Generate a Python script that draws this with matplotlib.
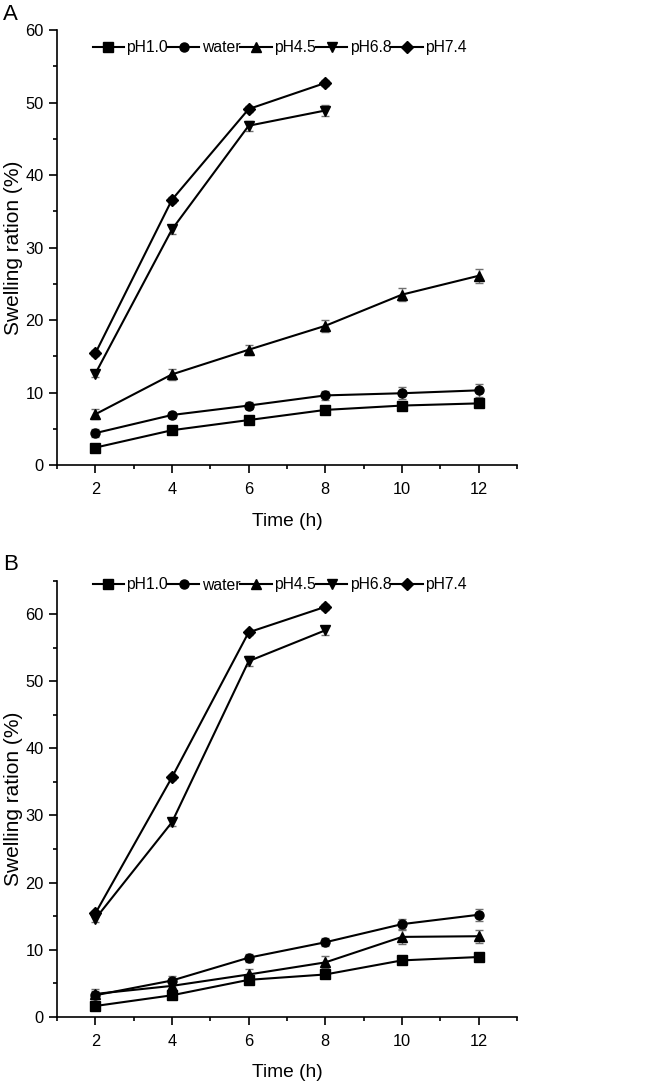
import matplotlib
matplotlib.use("Agg")
import matplotlib.pyplot as plt
from matplotlib.ticker import MultipleLocator

plt.rcParams['font.family'] = ['Liberation Sans', 'DejaVu Sans']

time_h = [2, 4, 6, 8, 10, 12]
time_short = [2, 4, 6, 8]
labels = ["pH1.0", "water", "pH4.5", "pH6.8", "pH7.4"]
markers = ["s", "o", "^", "v", "D"]

# Panel A
a_ph10 = [2.4, 4.8, 6.2, 7.6, 8.2, 8.5]
a_water = [4.4, 6.9, 8.2, 9.6, 9.9, 10.3]
a_ph45 = [7.0, 12.5, 15.9, 19.2, 23.5, 26.1]
a_ph68 = [12.6, 32.5, 46.8, 48.9]
a_ph74 = [15.4, 36.6, 49.1, 52.7]
a_err_ph10 = [0.3, 0.3, 0.3, 0.3, 0.3, 0.4]
a_err_water = [0.5, 0.4, 0.5, 0.6, 0.8, 0.9]
a_err_ph45 = [0.7, 0.8, 0.7, 0.8, 0.9, 1.0]
a_err_ph68 = [0.5, 0.6, 0.7, 0.7]
a_err_ph74 = [0.4, 0.4, 0.4, 0.4]

# Panel B
b_ph10 = [1.6, 3.2, 5.5, 6.3, 8.4, 8.9]
b_water = [3.2, 5.4, 8.8, 11.1, 13.8, 15.2]
b_ph45 = [3.4, 4.6, 6.3, 8.1, 11.9, 12.0]
b_ph68 = [14.6, 29.0, 53.0, 57.6]
b_ph74 = [15.4, 35.7, 57.3, 61.1]
b_err_ph10 = [0.4, 0.4, 0.4, 0.5, 0.5, 0.5]
b_err_water = [0.6, 0.6, 0.6, 0.6, 0.7, 0.9]
b_err_ph45 = [0.7, 0.6, 0.8, 0.9, 1.0, 1.0]
b_err_ph68 = [0.5, 0.5, 0.7, 0.7]
b_err_ph74 = [0.4, 0.4, 0.4, 0.4]

fig = plt.figure(figsize=(6.66, 10.88), dpi=100)
axA = fig.add_axes([0.0856, 0.5726, 0.6906, 0.3998])
axB = fig.add_axes([0.0856, 0.0655, 0.6906, 0.4008])

def draw(ax, series, errs, ylim, legend_y, letter, letter_y):
    handles = []
    for i, (y, e) in enumerate(zip(series, errs)):
        xs = time_h if len(y) == 6 else time_short
        ax.errorbar(xs, y, yerr=e, fmt='none', ecolor='#707070', elinewidth=1.0,
                    capsize=3, capthick=1.0, zorder=2)
        ms = 6.5 if markers[i] != "D" else 5.8
        h, = ax.plot(xs, y, color='black', lw=1.5, marker=markers[i], ms=ms,
                     mfc='black', mec='black', label=labels[i], zorder=3)
        handles.append(h)
    ax.set_xlim(1, 13)
    ax.set_ylim(*ylim)
    ax.xaxis.set_major_locator(MultipleLocator(2))
    ax.xaxis.set_minor_locator(MultipleLocator(1))
    ax.yaxis.set_major_locator(MultipleLocator(10))
    ax.yaxis.set_minor_locator(MultipleLocator(5))
    for s in ['top', 'right']:
        ax.spines[s].set_visible(False)
    for s in ['left', 'bottom']:
        ax.spines[s].set_linewidth(1.2)
    ax.tick_params(which='major', direction='out', length=5.5, width=1.2, labelsize=11.8)
    ax.tick_params(which='minor', direction='out', length=3.2, width=1.2)
    ax.tick_params(axis='x', pad=7)
    ax.tick_params(axis='y', pad=4)
    ax.set_xlabel("Time (h)", fontsize=13.8, labelpad=11)
    ax.set_ylabel("Swelling ration (%)", fontsize=15, labelpad=2)
    fig.legend(handles=handles, loc='center left', bbox_to_anchor=(0.139, legend_y),
               ncol=5, frameon=False, fontsize=11.3, handlelength=2.0,
               handletextpad=0.15, columnspacing=0.0, borderaxespad=0,
               borderpad=0)
    fig.text(0.004, letter_y, letter, fontsize=16, va='center', ha='left')

draw(axA, [a_ph10, a_water, a_ph45, a_ph68, a_ph74],
     [a_err_ph10, a_err_water, a_err_ph45, a_err_ph68, a_err_ph74],
     (0, 60), 1 - 47.7 / 1088, "A", 1 - 15 / 1088)
draw(axB, [b_ph10, b_water, b_ph45, b_ph68, b_ph74],
     [b_err_ph10, b_err_water, b_err_ph45, b_err_ph68, b_err_ph74],
     (0, 65), 1 - 585 / 1088, "B", 1 - 565 / 1088)

fig.savefig("out.png", dpi=100)
